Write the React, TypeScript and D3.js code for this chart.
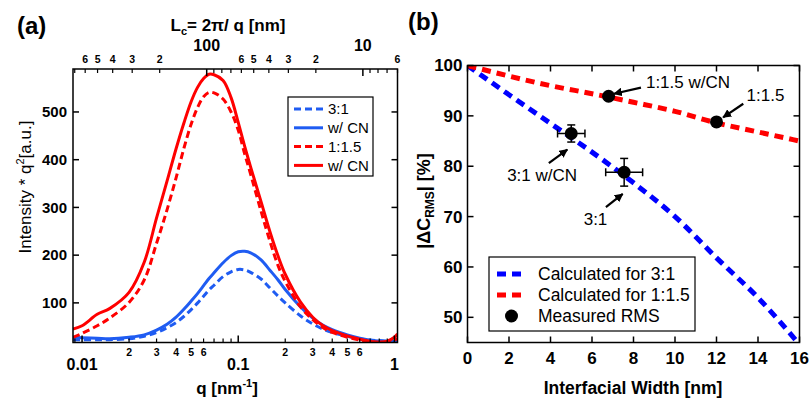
import React from "react";
import * as d3 from "d3";

// ---- panel (a): SAXS intensity * q^2 vs q ----
const Q = [
  0.00875, 0.01, 0.0125, 0.015, 0.02, 0.025, 0.03, 0.035, 0.04, 0.045, 0.05, 0.055, 0.06,
  0.065, 0.07, 0.08, 0.09, 0.1, 0.11, 0.12, 0.14, 0.16, 0.18, 0.2, 0.25, 0.3, 0.35, 0.4,
  0.5, 0.6, 0.7, 0.8, 0.9, 1.0, 1.047,
];
const BLUE_31 = [
  23, 23, 23, 23, 25, 30, 38, 48, 59, 72, 86, 100, 114, 127, 137, 155, 165, 170, 169, 164,
  150, 131, 114, 100, 73, 56, 45, 38, 30, 25, 22, 21, 20, 19, 19,
];
const BLUE_31_CN = [
  28, 27, 26, 25, 28, 33, 43, 55, 70, 87, 104, 120, 136, 151, 163, 184, 199, 207, 208, 205,
  190, 168, 148, 128, 92, 68, 53, 44, 33, 26, 22, 20, 19, 18, 18,
];
const RED_115 = [
  28, 36, 52, 68, 101, 148, 225, 295, 362, 425, 475, 510, 532, 541, 540, 527, 500, 462,
  412, 370, 292, 228, 178, 145, 92, 65, 48, 38, 28, 22, 19, 17, 18, 22, 25,
];
const RED_115_CN = [
  45, 52, 76, 88, 122, 185, 278, 355, 423, 478, 522, 552, 570, 579, 578, 566, 530, 478,
  428, 385, 312, 248, 198, 160, 102, 70, 52, 42, 31, 24, 19, 18, 20, 28, 35,
];
const LEGEND_A = ["3:1", "w/ CN", "1:1.5", "w/ CN"];
const Y_TICKS_A = [100, 200, 300, 400, 500];
const Q_MAJOR = [0.01, 0.1, 1];
const Q_MAJOR_LABELS = ["0.01", "0.1", "1"];
const Q_MINOR_LABELED = [2, 3, 4, 5, 6];
const L_MAJOR = [100, 10];
const L_MINOR = [700, 600, 500, 400, 300, 200, 90, 80, 70, 60, 50, 40, 30, 20, 9, 8, 7, 6];
const L_MINOR_LABELED = [600, 500, 400, 300, 200, 60, 50, 40, 30, 20, 6];

// ---- panel (b): |dC_RMS| vs interfacial width ----
const WIDTH = [0, 2, 4, 6, 8, 10, 12, 14, 16];
const CALC_31 = [100, 94.2, 88.5, 82.8, 76.7, 70.0, 61.8, 53.9, 44.6];
const CALC_115 = [100, 97.9, 96.0, 94.4, 92.7, 90.9, 88.6, 86.8, 85.0];
const MEAS_X = [5.0, 7.55, 6.8, 12.0];
const MEAS_Y = [86.5, 78.8, 93.9, 88.8];
const MEAS_XERR = [0.66, 0.89, 0, 0];
const MEAS_YERR = [1.7, 2.75, 0, 0];
const ANNOT_TEXT = ["1:1.5 w/CN", "1:1.5", "3:1 w/CN", "3:1"];
const ANNOT_POS = [
  [8.6, 96.8],
  [13.45, 94.1],
  [1.91, 78.3],
  [5.6, 69.5],
];
const ANNOT_ARROW = [
  [8.36, 95.6, 7.06, 94.4],
  [13.29, 92.4, 12.32, 89.7],
  [3.92, 80.6, 4.81, 83.3],
  [6.67, 71.9, 7.48, 74.5],
];
const LEGEND_B = ["Calculated for 3:1", "Calculated for 1:1.5", "Measured RMS"];
const X_TICKS_B = [0, 2, 4, 6, 8, 10, 12, 14, 16];
const Y_TICKS_B = [50, 60, 70, 80, 90, 100];

const FONT = "'Liberation Sans', Arial, sans-serif";
const BLUE_A = "#1f5cf2";
const RED = "#ff0000";
const BLUE_B = "#0000ff";

export default function App() {
  const W = 811;
  const H = 398;

  // panel (a) scales
  const aL = 73, aR = 397.5, aT = 69, aB = 342.5;
  const xA = d3.scaleLog().domain([0.00875, 1.047]).range([aL, aR]);
  const yA = d3.scaleLinear().domain([17, 590]).range([aB, aT]);
  const lineA = (vals: number[]) =>
    d3
      .line<number>()
      .x((_, i) => xA(Q[i]))
      .y((d) => yA(d))
      .curve(d3.curveCatmullRom)(vals) || "";

  const qMinor: number[] = [];
  [0.001, 0.01, 0.1].forEach((dec) => {
    for (let k = 2; k <= 9; k++) {
      const q = dec * k;
      if (q >= 0.00875 && q <= 1.047) qMinor.push(q);
    }
  });

  // panel (b) scales
  const bL = 467.5, bR = 799.5, bT = 65.5, bB = 342.5;
  const xB = d3.scaleLinear().domain([0, 16]).range([bL, bR]);
  const yB = d3.scaleLinear().domain([45, 100]).range([bB, bT]);
  const lineB = (vals: number[]) =>
    d3
      .line<number>()
      .x((_, i) => xB(WIDTH[i]))
      .y((d) => yB(d))
      .curve(d3.curveMonotoneX)(vals) || "";

  const seriesA = [
    { vals: BLUE_31, color: BLUE_A, dash: "7 4" },
    { vals: BLUE_31_CN, color: BLUE_A, dash: "" },
    { vals: RED_115, color: RED, dash: "7 4" },
    { vals: RED_115_CN, color: RED, dash: "" },
  ];

  return (
    <svg
      width={W}
      height={H}
      style={{ position: "absolute", left: 0, top: 0, background: "#fff" }}
      fontFamily={FONT}
    >
      <defs>
        <clipPath id="clipA">
          <rect x={aL} y={aT} width={aR - aL} height={aB - aT} />
        </clipPath>
        <clipPath id="clipB">
          <rect x={bL} y={bT} width={bR - bL} height={bB - bT} />
        </clipPath>
        <marker
          id="arrow"
          viewBox="0 0 10 10"
          refX="9"
          refY="5"
          markerWidth="4"
          markerHeight="4"
          orient="auto"
        >
          <path d="M0,0 L10,5 L0,10 z" fill="#000" />
        </marker>
      </defs>
      <rect width={W} height={H} fill="#fff" />

      {/* ================= panel (a) ================= */}
      <text x={17} y={34} fontSize={24} fontWeight="bold">(a)</text>

      <g clipPath="url(#clipA)">
        {seriesA.map((s, i) => (
          <path
            key={i}
            d={lineA(s.vals)}
            fill="none"
            stroke={s.color}
            strokeWidth={3}
            strokeDasharray={s.dash || undefined}
          />
        ))}
      </g>

      {/* left / right ticks */}
      {Y_TICKS_A.map((t) => (
        <g key={t}>
          <line x1={aL} x2={aL + 6} y1={yA(t)} y2={yA(t)} stroke="#000" strokeWidth={1.5} />
          <line x1={aR} x2={aR - 6} y1={yA(t)} y2={yA(t)} stroke="#000" strokeWidth={1.5} />
          <text x={aL - 6} y={yA(t)} dy="0.35em" textAnchor="end" fontSize={15} fontWeight="bold">
            {t}
          </text>
        </g>
      ))}

      {/* bottom ticks */}
      {Q_MAJOR.map((q, i) => (
        <g key={q}>
          <line x1={xA(q)} x2={xA(q)} y1={aB} y2={aB - 7} stroke="#000" strokeWidth={1.5} />
          <text x={xA(q)} y={aB + 27} textAnchor="middle" fontSize={16} fontWeight="bold">
            {Q_MAJOR_LABELS[i]}
          </text>
        </g>
      ))}
      {qMinor.map((q) => {
        const mant = Math.round(q / Math.pow(10, Math.floor(Math.log10(q) + 1e-9)));
        return (
          <g key={q}>
            <line x1={xA(q)} x2={xA(q)} y1={aB} y2={aB - 4} stroke="#000" strokeWidth={1.2} />
            {Q_MINOR_LABELED.includes(mant) && q > 0.01 ? (
              <text x={xA(q)} y={aB + 13} textAnchor="middle" fontSize={10.5} fontWeight="bold">
                {mant}
              </text>
            ) : null}
          </g>
        );
      })}

      {/* top ticks (L = 2pi/q) */}
      {L_MAJOR.map((L) => (
        <g key={L}>
          <line
            x1={xA((2 * Math.PI) / L)}
            x2={xA((2 * Math.PI) / L)}
            y1={aT}
            y2={aT + 7}
            stroke="#000"
            strokeWidth={1.5}
          />
          <text x={xA((2 * Math.PI) / L)} y={aT - 18} textAnchor="middle" fontSize={16} fontWeight="bold">
            {L}
          </text>
        </g>
      ))}
      {L_MINOR.map((L) => {
        const px = xA((2 * Math.PI) / L);
        const mant = L >= 100 ? L / 100 : L >= 10 ? L / 10 : L;
        return (
          <g key={L}>
            <line x1={px} x2={px} y1={aT} y2={aT + 4} stroke="#000" strokeWidth={1.2} />
            {L_MINOR_LABELED.includes(L) ? (
              <text x={px} y={aT - 6} textAnchor="middle" fontSize={10.5} fontWeight="bold">
                {mant}
              </text>
            ) : null}
          </g>
        );
      })}

      <rect x={aL} y={aT} width={aR - aL} height={aB - aT} fill="none" stroke="#000" strokeWidth={1.5} />

      {/* titles (a) */}
      <text x={228} y={31} textAnchor="middle" fontSize={17} fontWeight="bold">
        L<tspan fontSize={11} dy={4}>c</tspan>
        <tspan dy={-4}>= 2π/ q [nm]</tspan>
      </text>
      <text x={227} y={394} textAnchor="middle" fontSize={17} fontWeight="bold">
        q [nm<tspan fontSize={11} dy={-7}>-1</tspan>
        <tspan dy={7}>]</tspan>
      </text>
      <text
        transform="translate(31,187) rotate(-90)"
        textAnchor="middle"
        fontSize={17}
      >
        Intensity * q<tspan fontSize={11} dy={-7}>2</tspan>
        <tspan dy={7}>[a.u.]</tspan>
      </text>

      {/* legend (a) */}
      <g>
        <rect x={288} y={97} width={85} height={79} fill="#fff" stroke="#000" strokeWidth={1.2} />
        {seriesA.map((s, i) => {
          const yy = 109 + i * 18.8;
          return (
            <g key={i}>
              <line
                x1={294}
                x2={323}
                y1={yy}
                y2={yy}
                stroke={s.color}
                strokeWidth={3}
                strokeDasharray={s.dash || undefined}
              />
              <text x={328} y={yy} dy="0.35em" fontSize={15}>
                {LEGEND_A[i]}
              </text>
            </g>
          );
        })}
      </g>

      {/* ================= panel (b) ================= */}
      <text x={408} y={30} fontSize={24} fontWeight="bold">(b)</text>

      <g clipPath="url(#clipB)">
        <path d={lineB(CALC_31)} fill="none" stroke={BLUE_B} strokeWidth={5} strokeDasharray="9 6" />
        <path d={lineB(CALC_115)} fill="none" stroke={RED} strokeWidth={5} strokeDasharray="9 6" />
      </g>

      {/* measured points */}
      {MEAS_X.map((x, i) => {
        const cx = xB(x);
        const cy = yB(MEAS_Y[i]);
        return (
          <g key={i}>
            {MEAS_XERR[i] > 0 ? (
              <g stroke="#000" strokeWidth={1.5}>
                <line x1={xB(x - MEAS_XERR[i])} x2={xB(x + MEAS_XERR[i])} y1={cy} y2={cy} />
                <line x1={xB(x - MEAS_XERR[i])} x2={xB(x - MEAS_XERR[i])} y1={cy - 4} y2={cy + 4} />
                <line x1={xB(x + MEAS_XERR[i])} x2={xB(x + MEAS_XERR[i])} y1={cy - 4} y2={cy + 4} />
              </g>
            ) : null}
            {MEAS_YERR[i] > 0 ? (
              <g stroke="#000" strokeWidth={1.5}>
                <line x1={cx} x2={cx} y1={yB(MEAS_Y[i] - MEAS_YERR[i])} y2={yB(MEAS_Y[i] + MEAS_YERR[i])} />
                <line x1={cx - 4} x2={cx + 4} y1={yB(MEAS_Y[i] - MEAS_YERR[i])} y2={yB(MEAS_Y[i] - MEAS_YERR[i])} />
                <line x1={cx - 4} x2={cx + 4} y1={yB(MEAS_Y[i] + MEAS_YERR[i])} y2={yB(MEAS_Y[i] + MEAS_YERR[i])} />
              </g>
            ) : null}
            <circle cx={cx} cy={cy} r={6.5} fill="#000" />
          </g>
        );
      })}

      {/* annotations */}
      {ANNOT_TEXT.map((t, i) => (
        <g key={t}>
          <text x={xB(ANNOT_POS[i][0])} y={yB(ANNOT_POS[i][1])} dy="0.35em" fontSize={17}>
            {t}
          </text>
          <line
            x1={xB(ANNOT_ARROW[i][0])}
            y1={yB(ANNOT_ARROW[i][1])}
            x2={xB(ANNOT_ARROW[i][2])}
            y2={yB(ANNOT_ARROW[i][3])}
            stroke="#000"
            strokeWidth={2.2}
            markerEnd="url(#arrow)"
          />
        </g>
      ))}

      {/* ticks (b) */}
      {X_TICKS_B.map((t) => (
        <g key={t}>
          <line x1={xB(t)} x2={xB(t)} y1={bB} y2={bB - 6} stroke="#000" strokeWidth={1.5} />
          <line x1={xB(t)} x2={xB(t)} y1={bT} y2={bT + 6} stroke="#000" strokeWidth={1.5} />
          <text x={xB(t)} y={bB + 21} textAnchor="middle" fontSize={17} fontWeight="bold">
            {t}
          </text>
        </g>
      ))}
      {Y_TICKS_B.map((t) => (
        <g key={t}>
          <line x1={bL} x2={bL + 6} y1={yB(t)} y2={yB(t)} stroke="#000" strokeWidth={1.5} />
          <line x1={bR} x2={bR - 6} y1={yB(t)} y2={yB(t)} stroke="#000" strokeWidth={1.5} />
          <text x={bL - 5} y={yB(t)} dy="0.35em" textAnchor="end" fontSize={17} fontWeight="bold">
            {t}
          </text>
        </g>
      ))}
      <rect x={bL} y={bT} width={bR - bL} height={bB - bT} fill="none" stroke="#000" strokeWidth={1.5} />

      {/* titles (b) */}
      <text x={633} y={394} textAnchor="middle" fontSize={17.5} fontWeight="bold">
        Interfacial Width [nm]
      </text>
      <text transform="translate(430,201) rotate(-90)" textAnchor="middle" fontSize={18} fontWeight="bold">
        |ΔC<tspan fontSize={12} dy={4}>RMS</tspan>
        <tspan dy={-4}>| [%]</tspan>
      </text>

      {/* legend (b) */}
      <g>
        <rect x={489} y={257} width={206} height={74} fill="#fff" stroke="#000" strokeWidth={1.2} />
        <line x1={497} x2={526} y1={274} y2={274} stroke={BLUE_B} strokeWidth={5} strokeDasharray="9 6" />
        <line x1={497} x2={526} y1={295} y2={295} stroke={RED} strokeWidth={5} strokeDasharray="9 6" />
        <circle cx={511.5} cy={316} r={6.5} fill="#000" />
        {LEGEND_B.map((t, i) => (
          <text key={t} x={538} y={274 + i * 21} dy="0.35em" fontSize={17.5}>
            {t}
          </text>
        ))}
      </g>
    </svg>
  );
}
